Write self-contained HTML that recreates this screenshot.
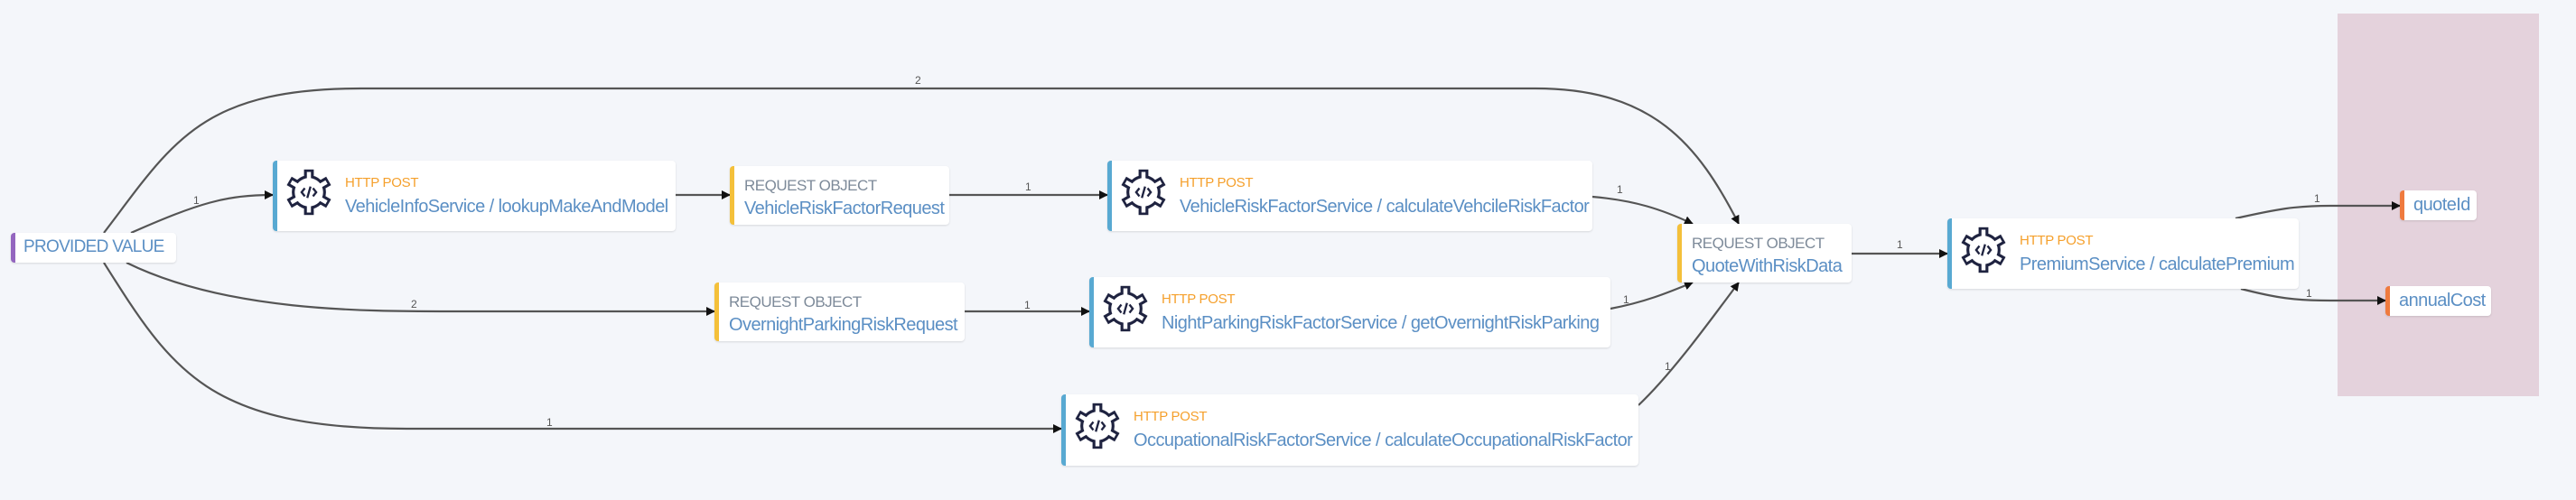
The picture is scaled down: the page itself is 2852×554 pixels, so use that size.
<!DOCTYPE html>
<html><head><meta charset="utf-8"><style>
body{margin:0;width:2852px;height:554px;background:#f4f6fa;position:relative;overflow:hidden;font-family:"Liberation Sans",sans-serif}
.n{position:absolute;background:#fff;border-radius:4px;box-shadow:0 1px 2px rgba(0,0,0,.12);box-sizing:border-box;white-space:nowrap}
.b{border-left:5px solid #58a9d2}
.y{border-left:5px solid #f4c03a}
.p{border-left:5px solid #9466bf}
.o{border-left:5px solid #ef7a3e}
.t1{position:absolute;font-size:15px;color:#f5a02c;letter-spacing:-0.3px}
.t2{position:absolute;font-size:20px;color:#5b8fc4;letter-spacing:-0.55px}
.g1{position:absolute;font-size:17px;color:#7d8a99;letter-spacing:-0.5px}
.ic{position:absolute;left:8px;top:8px}
svg.e{position:absolute;left:0;top:0}
.lb{font-size:12px;fill:#555;font-family:"Liberation Sans",sans-serif}
</style></head><body>
<div style="position:absolute;left:2588px;top:15px;width:223px;height:424px;background:#e4d2dc"></div>
<svg class="e" width="2852" height="554">
<defs>
<marker id="a" markerWidth="10" markerHeight="10" refX="9" refY="5" orient="auto" markerUnits="userSpaceOnUse"><path d="M0,0 L10,5 L0,10z" fill="#111"/></marker>
<symbol id="gear" viewBox="-30 -30 60 60">
<g fill="#1f2340">
<circle r="21"/>
<rect x="-6" y="-28" width="12" height="12" transform="rotate(0)"/>
<rect x="-6" y="-28" width="12" height="12" transform="rotate(60)"/>
<rect x="-6" y="-28" width="12" height="12" transform="rotate(120)"/>
<rect x="-6" y="-28" width="12" height="12" transform="rotate(180)"/>
<rect x="-6" y="-28" width="12" height="12" transform="rotate(240)"/>
<rect x="-6" y="-28" width="12" height="12" transform="rotate(300)"/>
</g>
<g fill="#fff">
<circle r="17.5"/>
<rect x="-2.5" y="-25" width="5" height="10" transform="rotate(0)"/>
<rect x="-2.5" y="-25" width="5" height="10" transform="rotate(60)"/>
<rect x="-2.5" y="-25" width="5" height="10" transform="rotate(120)"/>
<rect x="-2.5" y="-25" width="5" height="10" transform="rotate(180)"/>
<rect x="-2.5" y="-25" width="5" height="10" transform="rotate(240)"/>
<rect x="-2.5" y="-25" width="5" height="10" transform="rotate(300)"/>
</g>
<path d="M-5,-5 L-9,0 L-5,5 M5,-5 L9,0 L5,5 M2,-7 L-2,7" stroke="#1f2340" stroke-width="2.6" fill="none"/>
</symbol>
</defs>
<g fill="none" stroke="#555" stroke-width="2.2">
<path d="M115,258 C190,160 220,98 400,98 L1700,98 C1830,98 1880,160 1925,248" marker-end="url(#a)"/>
<path d="M145,258 C220,225 250,216 302,216" marker-end="url(#a)"/>
<path d="M140,291 C250,345 400,345 500,345 L791,345" marker-end="url(#a)"/>
<path d="M115,291 C190,410 230,475 450,475 L1175,475" marker-end="url(#a)"/>
<path d="M748,216 L808,216" marker-end="url(#a)"/>
<path d="M1051,216 L1226,216" marker-end="url(#a)"/>
<path d="M1068,345 L1206,345" marker-end="url(#a)"/>
<path d="M1763,218 C1810,222 1840,232 1874,248" marker-end="url(#a)"/>
<path d="M1783,342 C1820,335 1845,325 1874,313" marker-end="url(#a)"/>
<path d="M1814,449 C1850,415 1890,360 1925,313" marker-end="url(#a)"/>
<path d="M2050,281 L2156,281" marker-end="url(#a)"/>
<path d="M2475,242 C2520,232 2540,228 2580,228 L2657,228" marker-end="url(#a)"/>
<path d="M2481,320 C2520,330 2540,333 2580,333 L2641,333" marker-end="url(#a)"/>
</g>
<g class="lb">
<text x="1013" y="93">2</text>
<text x="214" y="226">1</text>
<text x="455" y="341">2</text>
<text x="605" y="472">1</text>
<text x="1135" y="211">1</text>
<text x="1134" y="342">1</text>
<text x="1790" y="214">1</text>
<text x="1797" y="336">1</text>
<text x="1843" y="410">1</text>
<text x="2100" y="275">1</text>
<text x="2562" y="224">1</text>
<text x="2553" y="329">1</text>
</g>
</svg>

<div class="n p" style="left:12px;top:258px;width:183px;height:33px"><span class="t2" style="left:9px;top:5px;font-size:19px;letter-spacing:-0.7px">PROVIDED VALUE</span></div>

<div class="n b" style="left:302px;top:178px;width:446px;height:78px"><svg class="ic" width="54" height="54"><use href="#gear"/></svg><span class="t1" style="left:75px;top:16px">HTTP POST</span><span class="t2" style="left:75px;top:40px">VehicleInfoService / lookupMakeAndModel</span></div>

<div class="n y" style="left:808px;top:184px;width:243px;height:65px"><span class="g1" style="left:11px;top:12px">REQUEST OBJECT</span><span class="t2" style="left:11px;top:36px">VehicleRiskFactorRequest</span></div>

<div class="n y" style="left:791px;top:313px;width:277px;height:65px"><span class="g1" style="left:11px;top:12px">REQUEST OBJECT</span><span class="t2" style="left:11px;top:36px">OvernightParkingRiskRequest</span></div>

<div class="n b" style="left:1226px;top:178px;width:537px;height:78px"><svg class="ic" width="54" height="54"><use href="#gear"/></svg><span class="t1" style="left:75px;top:16px">HTTP POST</span><span class="t2" style="left:75px;top:40px">VehicleRiskFactorService / calculateVehcileRiskFactor</span></div>

<div class="n b" style="left:1206px;top:307px;width:577px;height:78px"><svg class="ic" width="54" height="54"><use href="#gear"/></svg><span class="t1" style="left:75px;top:16px">HTTP POST</span><span class="t2" style="left:75px;top:40px">NightParkingRiskFactorService / getOvernightRiskParking</span></div>

<div class="n b" style="left:1175px;top:437px;width:639px;height:79px"><svg class="ic" width="54" height="54"><use href="#gear"/></svg><span class="t1" style="left:75px;top:16px">HTTP POST</span><span class="t2" style="left:75px;top:40px">OccupationalRiskFactorService / calculateOccupationalRiskFactor</span></div>

<div class="n y" style="left:1857px;top:248px;width:193px;height:65px"><span class="g1" style="left:11px;top:12px">REQUEST OBJECT</span><span class="t2" style="left:11px;top:36px">QuoteWithRiskData</span></div>

<div class="n b" style="left:2156px;top:242px;width:389px;height:78px"><svg class="ic" width="54" height="54"><use href="#gear"/></svg><span class="t1" style="left:75px;top:16px">HTTP POST</span><span class="t2" style="left:75px;top:40px">PremiumService / calculatePremium</span></div>

<div class="n o" style="left:2657px;top:211px;width:85px;height:33px"><span class="t2" style="left:10px;top:5px">quoteId</span></div>
<div class="n o" style="left:2641px;top:317px;width:117px;height:33px"><span class="t2" style="left:10px;top:5px">annualCost</span></div>
</body></html>
